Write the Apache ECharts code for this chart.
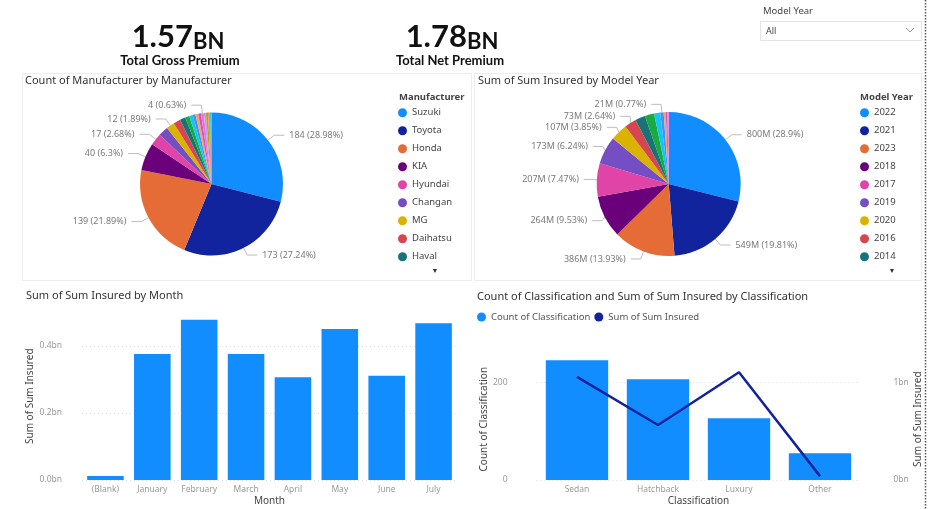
<!DOCTYPE html>
<html><head><meta charset="utf-8">
<script src="https://cdn.jsdelivr.net/npm/echarts@6/dist/echarts.min.js"></script>
<style>html,body{margin:0;padding:0;background:#fff}#c{width:940px;height:509px}</style>
</head><body><div id="c"></div>
<script>
// ---- data ----
const manufacturers = ['Suzuki','Toyota','Honda','KIA','Hyundai','Changan','MG','Daihatsu','Haval','Nissan','Mitsubishi','Mercedes','BMW','Audi','Proton','Prince','FAW','Chery','Lexus'];
const manufacturerCounts = [184,173,139,40,17,14,12,10,8,6,5,4,4,4,4,3,3,3,2];
const manufacturerLabeled = ['Suzuki','Toyota','Honda','KIA','Hyundai','MG','Proton'];

const modelYears = ['2022','2021','2023','2018','2017','2019','2020','2016','2014','2015','2013','2012','2011','2010','2009'];
const modelYearInsuredM = [800.4,548.7,385.8,263.9,206.9,172.8,106.6,73.1,63,58,38,21.3,13,10,8];
const modelYearLabeled = ['2022','2021','2023','2018','2017','2019','2020','2016','2012'];

const months = ['(Blank)','January','February','March','April','May','June','July'];
const monthInsuredBn = [0.012,0.376,0.478,0.376,0.307,0.451,0.311,0.468];

const classifications = ['Sedan','Hatchback','Luxury','Other'];
const classificationCounts = [246,207,127,55];
const classificationInsuredBn = [1.06,0.565,1.107,0.04];

const kpiGross = '1.57', kpiNet = '1.78';

// ---- style ----
const palette = ['#118DFF','#12239E','#E66C37','#6B007B','#E044A7','#744EC2','#D9B300','#D64550','#197278','#1AAB40','#15C6F4','#4092FF','#FFA058','#BE5DC9','#F472D0','#B5A1FF','#C4A200','#FF8080','#00DBBC','#5BD667'];
const F = "'Noto Sans', 'Open Sans', sans-serif";
const axisLabelStyle = {fontFamily:F, fontSize:8.5, color:'#9a9a9a'};
const axisNameStyle = {fontFamily:F, fontSize:10, color:'#444'};

const chart = echarts.init(document.getElementById('c'), null, {renderer:'canvas'});

function pieData(names, values, labeled){
  return names.map((n,i)=>({name:n, value:values[i], itemStyle:{color:palette[i % palette.length]},
    label:{show: labeled.includes(n)}, labelLine:{show: labeled.includes(n)}}));
}

const pieLabel = {fontFamily:F, fontSize:9, color:'#7a7a7a'};
const pieLabelLine = {length:8, length2:10, lineStyle:{color:'#bdbdbd', width:1}};

function text(x,y,t,style){
  return {type:'text', x:x, y:y, silent:true, style:Object.assign({text:t, fontFamily:F, fontSize:11, fill:'#333', verticalAlign:'middle', align:'left'}, style||{})};
}
function kpi(x, v){
  return {type:'text', x:x, y:37, silent:true, style:{text:'{n|'+v+'}{u|BN}', align:'center', verticalAlign:'middle',
    rich:{n:{fontFamily:'Lato', fontWeight:'bold', fontSize:31, fill:'#111', verticalAlign:'bottom'},
          u:{fontFamily:'Lato', fontWeight:'bold', fontSize:22, fill:'#111', verticalAlign:'bottom'}}}};
}

const option = {
  animation:false,
  backgroundColor:'#fff',
  color: palette,
  legend:[
    {data:manufacturers.slice(0,9), orient:'vertical', left:398, top:106.7, padding:0, itemGap:6, itemWidth:9, itemHeight:9, icon:'circle',
     textStyle:{fontFamily:F, fontSize:9.5, color:'#444', lineHeight:12}},
    {data:modelYears.slice(0,9), orient:'vertical', left:860, top:106.7, padding:0, itemGap:6, itemWidth:9, itemHeight:9, icon:'circle',
     textStyle:{fontFamily:F, fontSize:9.5, color:'#444', lineHeight:12}},
    {data:['Count of Classification','Sum of Sum Insured'], orient:'horizontal', left:477, top:312, padding:0, itemGap:4, itemWidth:9, itemHeight:9, icon:'circle',
     textStyle:{fontFamily:F, fontSize:9.5, color:'#555'}}
  ],
  grid:[
    {left:82, right:483, top:312.5, bottom:29},
    {left:536.5, right:79.5, top:358.4, bottom:29}
  ],
  xAxis:[
    {gridIndex:0, type:'category', data:months, axisLine:{show:false}, axisTick:{show:false},
     axisLabel:Object.assign({margin:5, interval:0}, axisLabelStyle),
     name:'Month', nameLocation:'middle', nameGap:16, nameTextStyle:axisNameStyle},
    {gridIndex:1, type:'category', data:classifications, axisLine:{show:false}, axisTick:{show:false},
     axisLabel:Object.assign({margin:5, interval:0}, axisLabelStyle),
     name:'Classification', nameLocation:'middle', nameGap:16, nameTextStyle:axisNameStyle}
  ],
  yAxis:[
    {gridIndex:0, type:'value', min:0, max:0.5, interval:0.2,
     axisLabel:Object.assign({margin:20, showMaxLabel:false, formatter:v=>v.toFixed(1)+'bn'}, axisLabelStyle),
     splitLine:{showMaxLine:false, lineStyle:{color:'#dcdcdc', type:[1,3], width:1}},
     name:'Sum of Sum Insured', nameLocation:'middle', nameGap:43, nameRotate:90, nameTextStyle:axisNameStyle},
    {gridIndex:1, type:'value', min:0, max:250, interval:200,
     axisLabel:Object.assign({margin:29, showMaxLabel:false}, axisLabelStyle),
     splitLine:{showMaxLine:false, lineStyle:{color:'#dcdcdc', type:[1,3], width:1}},
     name:'Count of Classification', nameLocation:'middle', nameGap:46, nameRotate:90, nameTextStyle:axisNameStyle},
    {gridIndex:1, type:'value', position:'right', min:0, max:1.25, interval:1,
     axisLabel:Object.assign({margin:33, showMaxLabel:false, formatter:v=>v+'bn'}, axisLabelStyle),
     splitLine:{show:false},
     name:'Sum of Sum Insured', nameLocation:'middle', nameGap:52, nameRotate:90, nameTextStyle:axisNameStyle}
  ],
  series:[
    {type:'pie', name:'Count of Manufacturer', center:[211.5,184], radius:71.5, startAngle:90, clockwise:true,
     data:pieData(manufacturers, manufacturerCounts, manufacturerLabeled),
     label:Object.assign({formatter:'{c} ({d}%)'}, pieLabel), labelLine:pieLabelLine,
     itemStyle:{borderWidth:0}, emphasis:{scale:false}},
    {type:'pie', name:'Sum of Sum Insured by Model Year', center:[668.7,184], radius:72, startAngle:90, clockwise:true,
     data:pieData(modelYears, modelYearInsuredM, modelYearLabeled),
     label:Object.assign({formatter:p=>Math.round(p.value)+'M ('+p.percent+'%)'}, pieLabel), labelLine:pieLabelLine,
     itemStyle:{borderWidth:0}, emphasis:{scale:false}},
    {type:'bar', name:'Sum of Sum Insured by Month', xAxisIndex:0, yAxisIndex:0, data:monthInsuredBn,
     barCategoryGap:'22%', itemStyle:{color:'#118DFF'}},
    {type:'bar', name:'Count of Classification', xAxisIndex:1, yAxisIndex:1, data:classificationCounts,
     barCategoryGap:'23%', itemStyle:{color:'#118DFF'}},
    {type:'line', name:'Sum of Sum Insured', xAxisIndex:1, yAxisIndex:2, data:classificationInsuredBn,
     showSymbol:false, symbol:'circle', itemStyle:{color:'#12239E'}, lineStyle:{color:'#12239E', width:2.5}}
  ],
  graphic:[
    {type:'rect', shape:{x:22.5,y:73.5,width:449,height:207}, style:{fill:null, stroke:'#ececec', lineWidth:1}, silent:true, z:-1},
    {type:'rect', shape:{x:474.5,y:73.5,width:447,height:207}, style:{fill:null, stroke:'#ececec', lineWidth:1}, silent:true, z:-1},
    {type:'line', shape:{x1:925.5,y1:0,x2:925.5,y2:509}, style:{stroke:'#555', lineWidth:1.5, lineDash:[1.5,1.5]}, silent:true},
    kpi(178, kpiGross),
    text(180, 61, 'Total Gross Premium', {align:'center', fontFamily:'Lato', fontWeight:'bold', fontSize:13, fill:'#111'}),
    kpi(452, kpiNet),
    text(450, 61, 'Total Net Premium', {align:'center', fontFamily:'Lato', fontWeight:'bold', fontSize:13, fill:'#111'}),
    text(763, 11, 'Model Year', {fontSize:9.5, fill:'#444'}),
    {type:'rect', shape:{x:760.5,y:21.5,width:161,height:19}, style:{fill:'#fff', stroke:'#e4e4e4', lineWidth:1}, silent:true},
    text(766, 31, 'All', {fontSize:9, fill:'#444'}),
    {type:'polyline', shape:{points:[[906,28],[910,32],[914,28]]}, style:{stroke:'#999', lineWidth:1, fill:null}, silent:true},
    text(25, 81, 'Count of Manufacturer by Manufacturer', {fontSize:11, fill:'#333'}),
    text(478, 81, 'Sum of Sum Insured by Model Year', {fontSize:11, fill:'#333'}),
    text(26, 296, 'Sum of Sum Insured by Month', {fontSize:11, fill:'#333'}),
    text(477, 297, 'Count of Classification and Sum of Sum Insured by Classification', {fontSize:11, fill:'#333'}),
    text(399, 97, 'Manufacturer', {fontSize:9.5, fontWeight:'bold', fill:'#444'}),
    text(860, 97, 'Model Year', {fontSize:9.5, fontWeight:'bold', fill:'#444'}),
    text(435, 271, '▼', {align:'center', fontSize:7, fill:'#333'}),
    text(892, 271, '▼', {align:'center', fontSize:7, fill:'#333'})
  ]
};
chart.setOption(option);
</script>
</body></html>
